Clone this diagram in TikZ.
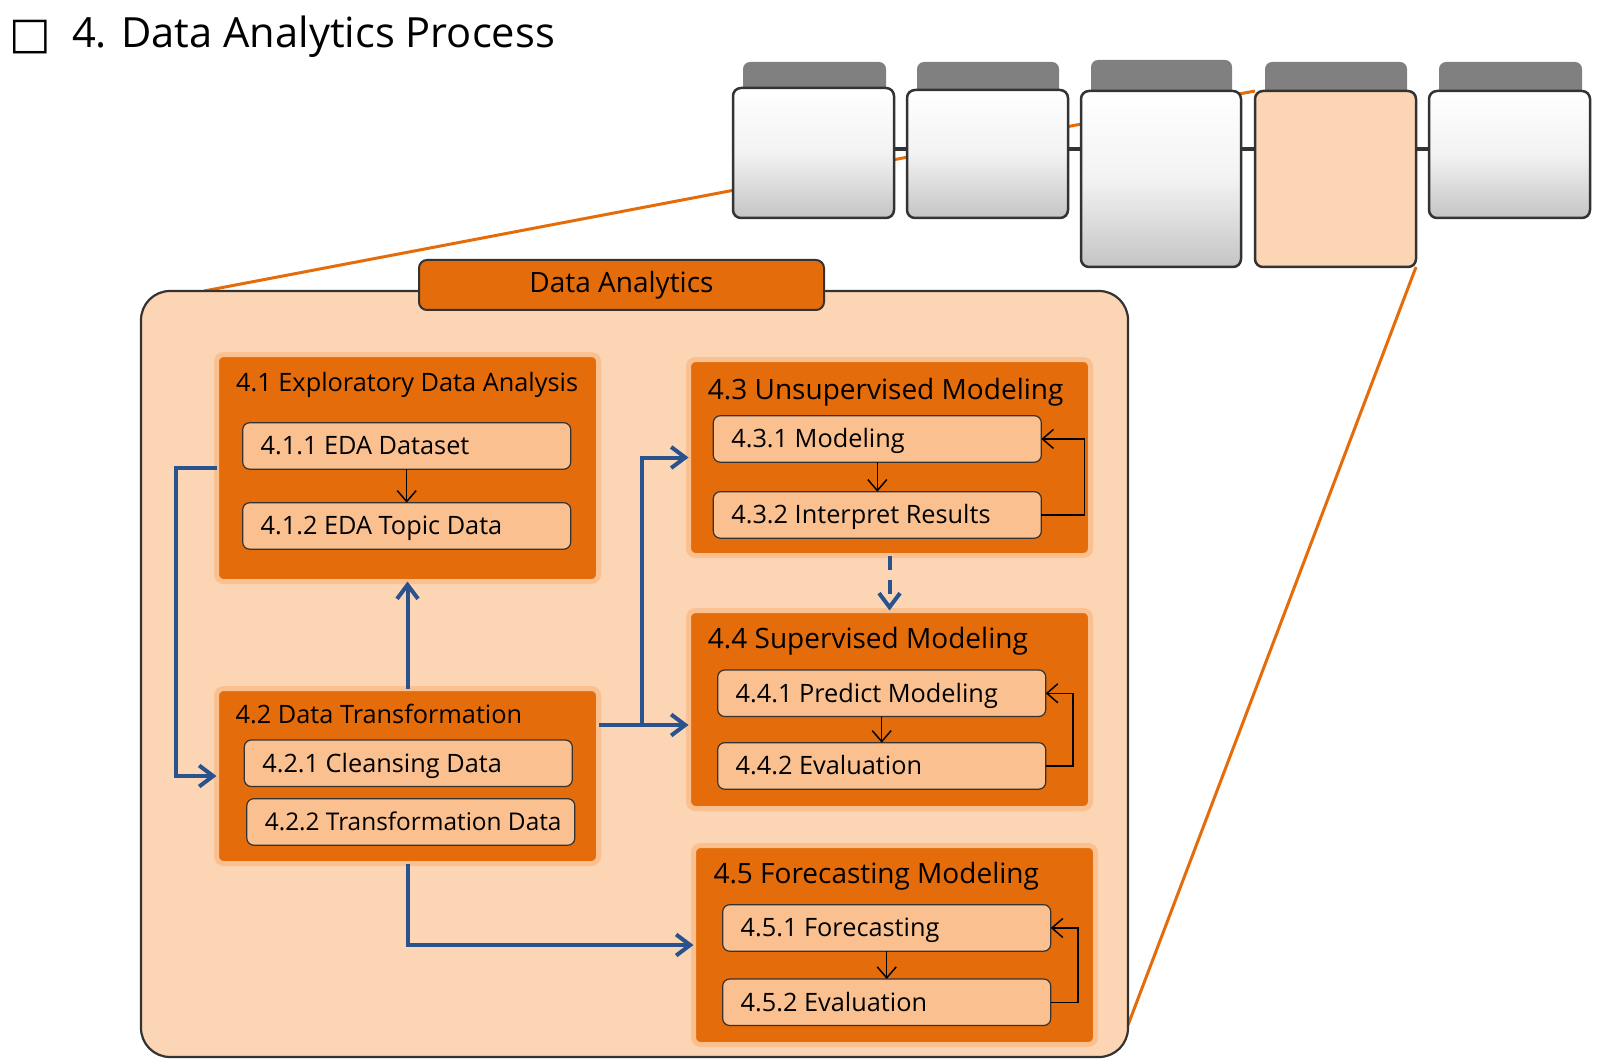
\documentclass[tikz,border=0pt]{standalone}
\usepackage{fontspec}
\setmainfont{Open Sans}
\newfontfamily\dejavu{DejaVu Sans}
\usetikzlibrary{arrows.meta,calc,backgrounds}
\definecolor{tangerine}{HTML}{E46C0A}
\definecolor{apricot}{HTML}{FCD5B5}
\definecolor{peach}{HTML}{FAC090}
\definecolor{flowblue}{HTML}{2A538E}
\definecolor{ink}{HTML}{333333}
\definecolor{tabgray}{HTML}{808080}
\newcommand\headsize{\fontsize{41.6}{48}\selectfont}
\newcommand\stagesize{\fontsize{28}{32}\selectfont}
\newcommand\tasksize{\fontsize{25.3}{30}\selectfont}
\begin{document}
\begin{tikzpicture}[x=1pt,y=-1pt]
    \tikzset{tab/.style = {fill=tabgray, rounded corners=7pt, anchor=north west, inner sep=0pt, outer sep=0pt}}
    \tikzset{phase/.style = {draw=ink, line width=2.5pt, rounded corners=8pt, anchor=north west, inner sep=0pt, outer sep=0pt}}
    \tikzset{steel/.style = {phase, top color=white, bottom color=black!23, middle color=black!5}}
    \tikzset{link/.style = {draw=ink, line width=4pt}}
    \tikzset{spoke/.style = {draw=tangerine, line width=3pt}}
    \tikzset{frame/.style = {draw=ink, line width=2.2pt, fill=apricot, rounded corners=29pt, anchor=north west, inner sep=0pt, outer sep=0pt}}
    \tikzset{banner/.style = {draw=ink, line width=2pt, fill=tangerine, rounded corners=8pt, anchor=north west, inner sep=0pt, outer sep=0pt, font=\stagesize}}
    \tikzset{stage/.style = {draw=peach, line width=5pt, fill=tangerine, rounded corners=7pt, anchor=north west, inner sep=0pt, outer sep=0pt}}
    \tikzset{caption/.style = {anchor=base west, inner sep=0pt, font=\tasksize}}
    \tikzset{task/.style = {draw=ink, line width=1.2pt, fill=peach, rounded corners=7pt, anchor=north west, outer sep=0pt,
        minimum height=46.5pt, inner xsep=18pt, inner ysep=0pt, text height=18pt, text depth=0pt, font=\tasksize,
        execute at begin node={\hbox to 292pt\bgroup}, execute at end node={\hss\egroup}}}
    \tikzset{thinflow/.style = {draw=black, line width=1.5pt, -{Straight Barb[length=11pt,width=19pt]}}}
    \tikzset{flow/.style = {draw=flowblue, line width=4pt, -{Straight Barb[length=14pt,width=21pt]}}}
    \useasboundingbox (0,0) rectangle (1602,1064);
    % heading
    \node[anchor=base west, inner sep=0pt, font=\dejavu\fontsize{44}{48}\selectfont] (mark) at (9,49) {□};
    \node[anchor=base west, inner sep=0pt, font=\headsize] (head) at (72,48) {4. Data Analytics Process};
    % tabs behind the phase boxes
    \node[tab, minimum width=143pt, minimum height=34pt] (tab1) at (743,62) {};
    \node[tab, minimum width=142pt, minimum height=34pt] (tab2) at (917,62) {};
    \node[tab, minimum width=141pt, minimum height=36pt] (tab3) at (1091,60) {};
    \node[tab, minimum width=142pt, minimum height=34pt] (tab4) at (1265,62) {};
    \node[tab, minimum width=143pt, minimum height=34pt] (tab5) at (1439,62) {};
    % phase boxes
    \node[steel, minimum width=161pt, minimum height=130pt] (p1) at (733,88) {};
    \node[steel, minimum width=161pt, minimum height=128pt] (p2) at (907,90) {};
    \node[steel, minimum width=160pt, minimum height=176pt] (p3) at (1081,91) {};
    \node[phase, fill=apricot, minimum width=161pt, minimum height=176pt] (p4) at (1255,91) {};
    \node[steel, minimum width=161pt, minimum height=127pt] (p5) at (1429,91) {};
    \coordinate (rowy) at (0,149);
    \draw[link] (p1.east |- rowy) -- (p2.west |- rowy);
    \draw[link] (p2.east |- rowy) -- (p3.west |- rowy);
    \draw[link] (p3.east |- rowy) -- (p4.west |- rowy);
    \draw[link] (p4.east |- rowy) -- (p5.west |- rowy);
    % data analytics frame
    \node[frame, minimum width=987pt, minimum height=766pt] (frame) at (141,291) {};
    \node[banner, minimum width=405pt, minimum height=50pt] (banner) at (419,260) {Data Analytics};
    \begin{pgfonlayer}{background}
    \draw[spoke] ($(frame.north west)+(63,0)$) -- (p4.north west);
    \draw[spoke] (p4.south east) -- ($(frame.south east)+(0,-32)$);
    \end{pgfonlayer}
    % stages
    \node[stage, minimum width=382pt, minimum height=227pt] (eda) at (216.5,354.5) {};
    \node[stage, minimum width=382pt, minimum height=175pt] (trans) at (216.5,688.5) {};
    \node[stage, minimum width=402pt, minimum height=196pt] (unsup) at (688.5,359.5) {};
    \node[stage, minimum width=402pt, minimum height=198pt] (sup) at (688.5,610.5) {};
    \node[stage, minimum width=402pt, minimum height=199pt] (fore) at (693.5,845.5) {};
    \node[caption] (eda title) at (236,391.7) {4.1 Exploratory Data Analysis};
    \node[caption] (trans title) at (235.5,723) {4.2 Data Transformation};
    \node[caption, font=\stagesize] (unsup title) at (707.7,399.3) {4.3 Unsupervised Modeling};
    \node[caption, font=\stagesize] (sup title) at (707.7,648.3) {4.4 Supervised Modeling};
    \node[caption, font=\stagesize] (fore title) at (713.3,883.3) {4.5 Forecasting Modeling};
    % tasks
    \node[task] (eda1) at (242.7,422.7) {4.1.1 EDA Dataset};
    \node[task] (eda2) at (242.7,502.7) {4.1.2 EDA Topic Data};
    \node[task] (trans1) at (244.3,740) {4.2.1 Cleansing Data};
    \node[task, font=\fontsize{24.4}{30}\selectfont] (trans2) at (246.8,798.7) {4.2.2 Transformation Data};
    \node[task] (unsup1) at (713.3,415.7) {4.3.1 Modeling};
    \node[task] (unsup2) at (713.3,491.7) {4.3.2 Interpret Results};
    \node[task] (sup1) at (717.7,670) {4.4.1 Predict Modeling};
    \node[task] (sup2) at (717.7,742.7) {4.4.2 Evaluation};
    \node[task] (fore1) at (722.7,904.7) {4.5.1 Forecasting};
    \node[task] (fore2) at (722.7,979) {4.5.2 Evaluation};
    % steps inside the stages
    \draw[thinflow] (eda1) -- (eda2);
    \draw[thinflow] (unsup1) -- (unsup2);
    \draw[thinflow] (unsup2.east) -- ++(43,0) |- (unsup1.east);
    \draw[thinflow] (sup1) -- (sup2);
    \draw[thinflow] (sup2.east) -- ++(27.5,0) |- (sup1.east);
    \draw[thinflow] (fore1) -- (fore2);
    \draw[thinflow] (fore2.east) -- ++(27.5,0) |- (fore1.east);
    % flow between the stages
    \draw[flow] (eda.west) -- ++(-41,0) |- (trans.west);
    \draw[flow] (trans.north) -- (eda.south);
    \coordinate (fork) at (642,725);
    \draw[flow] (trans.east |- fork) -- (sup.west |- fork);
    \draw[flow] (fork) |- (unsup.west);
    \draw[flow] (trans.south) |- (fore.west);
    \draw[flow, dash pattern=on 14pt off 10pt] (unsup.south) -- (sup.north);
\end{tikzpicture}
\end{document}
